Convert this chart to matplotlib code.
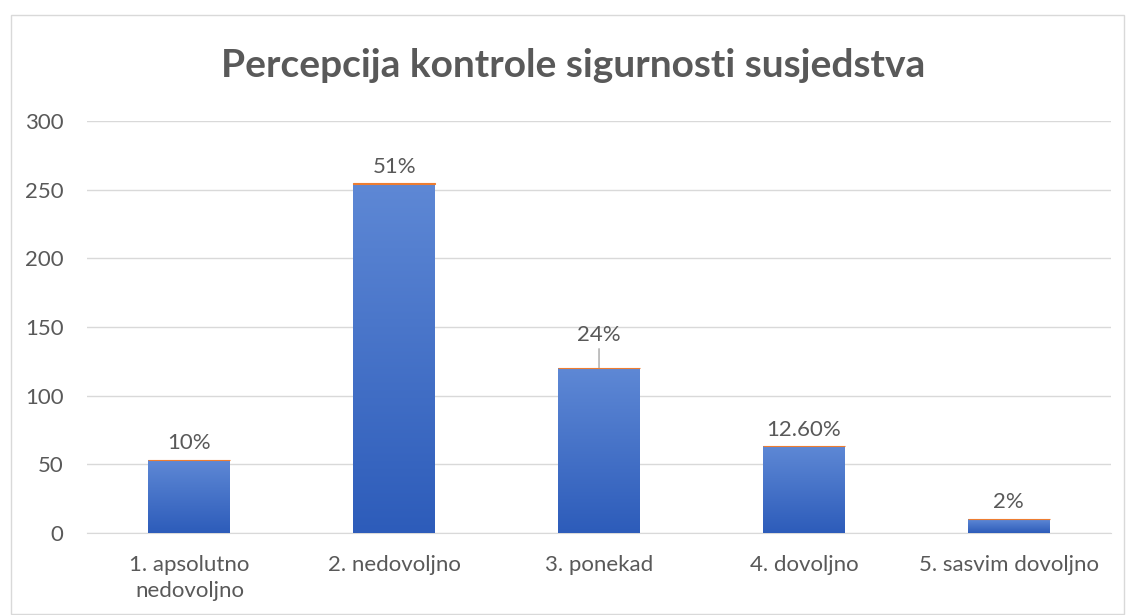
import numpy as np
import matplotlib.pyplot as plt
from matplotlib.colors import LinearSegmentedColormap

# Podaci
kategorije = ["1. apsolutno\nnedovoljno", "2. nedovoljno", "3. ponekad", "4. dovoljno", "5. sasvim dovoljno"]
broj = [53, 254, 120, 63, 10]
postotak = [0.10, 0.51, 0.24, 0.126, 0.02]
oznake = ["10%", "51%", "24%", "12.60%", "2%"]

plt.rcParams['font.family'] = ['Lato', 'DejaVu Sans']
siva = '#595959'

fig = plt.figure(figsize=(11.26, 6.15), dpi=100)
ax = fig.add_axes([0.0773, 0.1333, 0.9094, 0.67])

x = np.arange(len(kategorije))
bars = ax.bar(x, broj, width=0.4, color='#4472c4', zorder=2)

# gradijent na stupcima
cmap = LinearSegmentedColormap.from_list('plavo', ['#2d5cba', '#5e88d5'])
grad = np.linspace(0, 1, 256).reshape(-1, 1)
for b in bars:
    x0, y0, w, h = b.get_x(), b.get_y(), b.get_width(), b.get_height()
    im = ax.imshow(grad, extent=[x0, x0 + w, y0, y0 + h], origin='lower',
                   cmap=cmap, aspect='auto', zorder=3)
    im.set_clip_path(b)

# narančasta serija (postotak) naslagana na vrh
ax.bar(x, postotak, bottom=broj, width=0.4, color='#ed7d31',
       edgecolor='#ed7d31', linewidth=0.8, zorder=4)

# oznake podataka
for i, (xi, v, t) in enumerate(zip(x, broj, oznake)):
    if i == 2:
        ax.annotate(t, xy=(xi, v), xytext=(0, 17), textcoords='offset points',
                    ha='center', va='bottom', fontsize=16, color=siva,
                    arrowprops=dict(arrowstyle='-', color='#a6a6a6', lw=1,
                                    shrinkA=1, shrinkB=0))
    else:
        ax.annotate(t, xy=(xi, v), xytext=(0, 5), textcoords='offset points',
                    ha='center', va='bottom', fontsize=16, color=siva)

ax.set_xlim(-0.5, len(kategorije) - 0.5)
ax.set_ylim(0, 300)
ax.set_yticks(np.arange(0, 301, 50))
ax.set_xticks(x)
ax.set_xticklabels(kategorije, linespacing=1.35)
ax.tick_params(axis='both', length=0, labelsize=16, colors=siva)
ax.tick_params(axis='y', pad=17)
ax.tick_params(axis='x', pad=16)
ax.grid(axis='y', color='#d9d9d9', linewidth=1, zorder=0)
ax.set_axisbelow(True)
for s in ['left', 'right', 'top']:
    ax.spines[s].set_visible(False)
ax.spines['bottom'].set_color('#d9d9d9')

fig.text(0.509, 0.893, 'Percepcija kontrole sigurnosti susjedstva', ha='center', va='center',
         fontsize=28, fontweight='bold', color=siva)

# okvir grafikona
okvir = plt.Rectangle((0.0098, 0.002), 0.988, 0.974, transform=fig.transFigure,
                      fill=False, edgecolor='#d9d9d9', linewidth=1)
fig.add_artist(okvir)

fig.savefig('out.png', dpi=100)
